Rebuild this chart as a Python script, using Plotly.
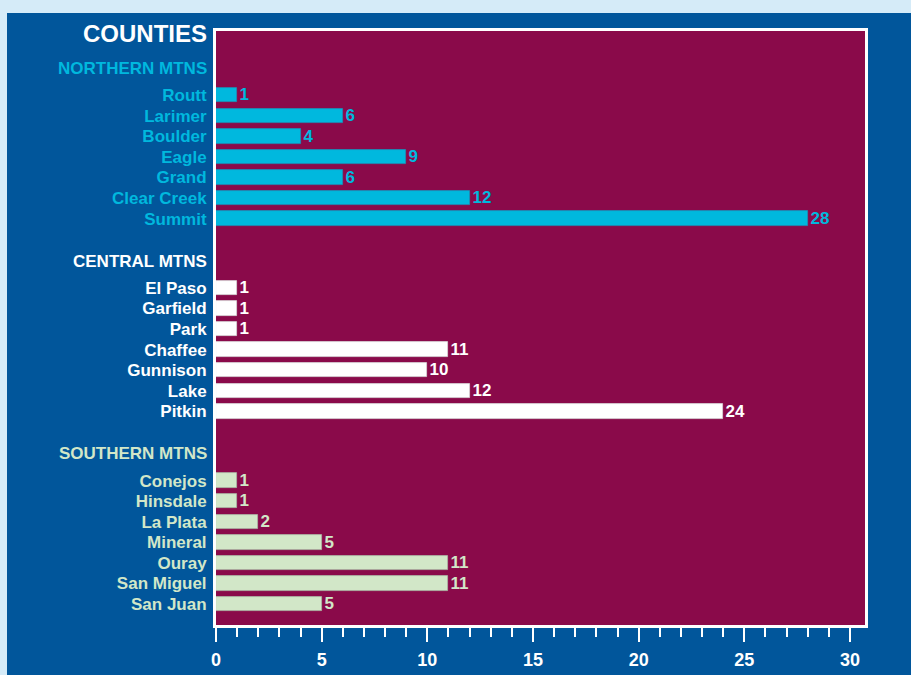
import plotly.graph_objects as go

# ---- data ----
groups = ["NORTHERN MTNS", "CENTRAL MTNS", "SOUTHERN MTNS"]
northern_counties = ["Routt", "Larimer", "Boulder", "Eagle", "Grand", "Clear Creek", "Summit"]
northern_values = [1, 6, 4, 9, 6, 12, 28]
central_counties = ["El Paso", "Garfield", "Park", "Chaffee", "Gunnison", "Lake", "Pitkin"]
central_values = [1, 1, 1, 11, 10, 12, 24]
southern_counties = ["Conejos", "Hinsdale", "La Plata", "Mineral", "Ouray", "San Miguel", "San Juan"]
southern_values = [1, 1, 2, 5, 11, 11, 5]
x_ticks = [0, 5, 10, 15, 20, 25, 30]

# ---- style ----
W, H = 911, 675
L, R, T, B = 216, 46, 31, 50
PW, PH = W - L - R, H - T - B
LIGHT = "#d5ebf8"
BLUE = "#01569b"
MAROON = "#8a0a4a"
colors = ["#00b8de", "#ffffff", "#d2e7c8"]
edge = ["#1a8fb8", "#d8d8d8", "#a9b8a4"]
FONT = "Liberation Sans"
G = 9.37          # row offset between groups
HDR = -1.3        # header offset from first row

series = [
    (northern_counties, northern_values),
    (central_counties, central_values),
    (southern_counties, southern_values),
]

fig = go.Figure()
tickvals, ticktext = [], []
annotations = []
for g, (names, vals) in enumerate(series):
    ys = [g * G + i for i in range(len(names))]
    fig.add_trace(go.Bar(
        x=vals, y=ys, orientation="h", width=0.7,
        marker=dict(color=colors[g], line=dict(color=edge[g], width=0.8)),
        text=[str(v) for v in vals], textposition="outside",
        textfont=dict(color=colors[g], size=17, family=FONT, weight="bold"),
        constraintext="none", cliponaxis=False, hoverinfo="skip",
        showlegend=False,
    ))
    for y, n in zip(ys, names):
        tickvals.append(y)
        ticktext.append(f'<span style="color:{colors[g]}">{n}</span>')
    annotations.append(dict(
        x=0, xref="paper", xanchor="right", xshift=-7,
        y=g * G + HDR, yref="y", yanchor="middle", showarrow=False,
        text=groups[g], font=dict(color=colors[g], size=17, family=FONT, weight="bold"),
    ))

annotations.append(dict(
    x=0, xref="paper", xanchor="right", xshift=-7,
    y=-3.02, yref="y", yanchor="middle", showarrow=False,
    text="COUNTIES", font=dict(color="#ffffff", size=24, family=FONT, weight="bold"),
))

def px_x(px):
    return (px - L) / PW

def px_y(py):
    return (H - B - py) / PH

shapes = [
    dict(type="rect", xref="paper", yref="paper", x0=px_x(-10), x1=px_x(W + 10),
         y0=px_y(13), y1=px_y(-10), fillcolor=LIGHT, line=dict(width=0), layer="above"),
    dict(type="rect", xref="paper", yref="paper", x0=px_x(-10), x1=px_x(7),
         y0=px_y(H + 10), y1=px_y(-10), fillcolor=LIGHT, line=dict(width=0), layer="above"),
]

fig.update_layout(
    width=W, height=H,
    margin=dict(l=L, r=R, t=T, b=B, autoexpand=False),
    paper_bgcolor=BLUE, plot_bgcolor=MAROON,
    font=dict(family=FONT),
    bargap=0,
    annotations=annotations,
    shapes=shapes,
    xaxis=dict(
        range=[0, 30.71], tickvals=x_ticks, ticks="outside", ticklen=14, tickwidth=2,
        tickcolor="#ffffff", showgrid=False, zeroline=False, automargin=False,
        showline=True, linecolor="#ffffff", linewidth=3, mirror=True,
        tickfont=dict(color="#ffffff", size=18, family=FONT, weight="bold"),
        ticklabelstandoff=2,
        minor=dict(dtick=1, ticks="outside", ticklen=9, tickwidth=1.5, tickcolor="#ffffff"),
        fixedrange=True,
    ),
    yaxis=dict(
        range=[25.76, -3.12], tickvals=tickvals, ticktext=ticktext, ticks="",
        showgrid=False, zeroline=False, automargin=False,
        showline=True, linecolor="#ffffff", linewidth=3, mirror=True,
        tickfont=dict(size=17, family=FONT, weight="bold"),
        ticklabelstandoff=3,
        fixedrange=True,
    ),
)

fig.write_html("out.html", config={"displayModeBar": False})
